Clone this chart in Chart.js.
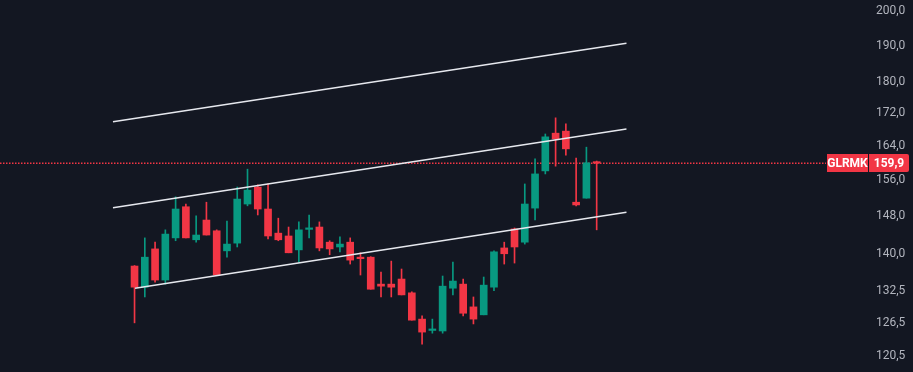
<!DOCTYPE html>
<html>
<head>
<meta charset="utf-8">
<script src="https://cdn.jsdelivr.net/npm/chart.js@4.4.1/dist/chart.umd.min.js"></script>
<style>
    html, body { margin: 0; padding: 0; background: #131722; }
</style>
</head>
<body>
<canvas id="chart" width="913" height="372"></canvas>
<script>
// GLRMK daily candles
const symbol = 'GLRMK';
const opens  = [137.5,133.3,141.0,134.7,143.3,150.0,142.9,147.1,144.8,140.6,142.2,150.6,154.4,149.5,144.3,143.7,140.8,145.1,145.6,142.4,141.4,142.4,139.2,139.3,133.9,133.9,134.9,132.2,127.2,125.1,125.0,133.1,133.9,129.5,128.0,133.3,141.2,145.2,142.4,149.7,158.1,167.1,167.6,151.0,151.9,160.2];
const highs  = [137.6,143.3,142.4,145.0,152.2,150.6,148.0,151.0,145.0,146.9,154.4,158.5,154.9,155.1,147.5,145.6,146.7,148.2,146.7,142.7,143.5,143.3,140.2,139.4,136.3,138.5,136.9,132.4,127.8,127.2,135.5,138.3,134.9,131.4,135.3,140.6,142.4,145.4,155.1,160.9,166.9,170.9,169.4,161.1,163.7,160.4];
const lows   = [126.5,131.4,134.3,133.9,142.7,143.3,142.4,143.9,135.7,139.3,141.4,150.2,148.2,143.1,142.7,140.2,138.3,143.3,140.6,139.8,140.4,137.9,135.7,132.9,131.4,131.4,131.8,127.0,122.6,124.6,124.6,131.8,127.8,126.3,128.0,132.6,137.9,138.1,142.0,147.1,157.4,159.2,161.8,150.2,151.9,145.0];
const closes = [133.3,139.3,134.7,144.1,149.5,143.3,143.9,143.9,135.7,142.0,151.7,153.7,149.5,143.7,142.9,140.2,145.0,145.3,141.2,141.0,142.0,138.7,139.0,132.9,133.5,133.3,131.8,127.0,124.8,125.3,133.5,134.5,128.3,127.2,133.7,140.4,140.0,141.4,150.6,157.4,166.2,165.7,163.3,150.4,160.0,159.9];

// parallel channel drawn on the chart (bar index, price)
const channelX   = [-2.1, 47.9];
const upperLine  = [169.9, 190.7];
const middleLine = [149.8, 168.1];
const lowerX     = [0.05, 47.9];
const lowerLine  = [133.1, 148.8];

// price axis ticks
const tickValues = [120.5, 126.5, 132.5, 140, 148, 156, 164, 172, 180, 190, 200];

const UP = '#089981';
const DOWN = '#f23645';
const lastClose = closes[closes.length - 1];
const fmt = v => v.toFixed(1).replace('.', ',');

const xMin = -13.1, xMax = 67.33;

const candleColors = closes.map((c, i) => c >= opens[i] ? UP : DOWN);

// labels on the price scale for the last price
const lastPriceLabel = {
    id: 'lastPriceLabel',
    afterDraw(chart) {
        const ctx = chart.ctx;
        const y = Math.round(chart.scales.y.getPixelForValue(lastClose));
        ctx.save();
        ctx.fillStyle = DOWN;
        ctx.fillRect(827, y - 9, 41, 18);
        ctx.beginPath();
        ctx.roundRect(869, y - 9, 40, 18, [0, 2, 2, 0]);
        ctx.fill();
        ctx.fillStyle = '#ffffff';
        ctx.font = 'bold 12px Roboto, sans-serif';
        ctx.textAlign = 'center';
        ctx.textBaseline = 'middle';
        ctx.fillText(symbol, 847.5, y + 0.5);
        ctx.fillText(fmt(lastClose), 889, y + 0.5);
        ctx.restore();
    }
};

const lineStyle = {
    type: 'line',
    borderColor: '#e6e8ee',
    borderWidth: 1.5,
    pointRadius: 0,
    fill: false,
    order: -1
};

new Chart(document.getElementById('chart'), {
    type: 'bar',
    data: {
        datasets: [
            {
                label: 'body',
                data: opens.map((o, i) => ({ x: i, y: [o, closes[i]] })),
                backgroundColor: candleColors,
                barThickness: 7,
                minBarLength: 1.5,
                grouped: false,
                order: 0
            },
            {
                label: 'wick',
                data: lows.map((l, i) => ({ x: i, y: [l, highs[i]] })),
                backgroundColor: candleColors,
                barThickness: 1,
                grouped: false,
                order: 1
            },
            Object.assign({ label: 'upper', data: channelX.map((x, i) => ({ x: x, y: upperLine[i] })) }, lineStyle),
            Object.assign({ label: 'middle', data: channelX.map((x, i) => ({ x: x, y: middleLine[i] })) }, lineStyle),
            Object.assign({ label: 'lower', data: lowerX.map((x, i) => ({ x: x, y: lowerLine[i] })) }, lineStyle),
            {
                type: 'line',
                label: 'last',
                data: [{ x: xMin, y: lastClose }, { x: xMax, y: lastClose }],
                borderColor: DOWN,
                borderWidth: 1.5,
                borderDash: [1.5, 1.5],
                pointRadius: 0,
                order: 2
            }
        ]
    },
    options: {
        responsive: false,
        animation: false,
        layout: { padding: 0 },
        plugins: {
            legend: { display: false },
            tooltip: { enabled: false }
        },
        scales: {
            x: {
                type: 'linear',
                min: xMin,
                max: xMax,
                offset: false,
                display: false
            },
            y: {
                type: 'logarithmic',
                position: 'right',
                min: 117.7,
                max: 203.16,
                grid: { display: false, drawTicks: false },
                border: { display: false },
                afterFit: function(scale) {
                    // price scale fills the full height, fixed width
                    scale.width = 87;
                    scale.paddingTop = 0;
                    scale.paddingBottom = 0;
                },
                afterBuildTicks: function(scale) {
                    scale.ticks = tickValues.map(v => ({ value: v }));
                },
                ticks: {
                    padding: 50,
                    color: '#b2b5be',
                    font: { family: 'Roboto, sans-serif', size: 12 },
                    callback: v => fmt(v)
                }
            }
        }
    },
    plugins: [lastPriceLabel]
});
</script>
</body>
</html>
